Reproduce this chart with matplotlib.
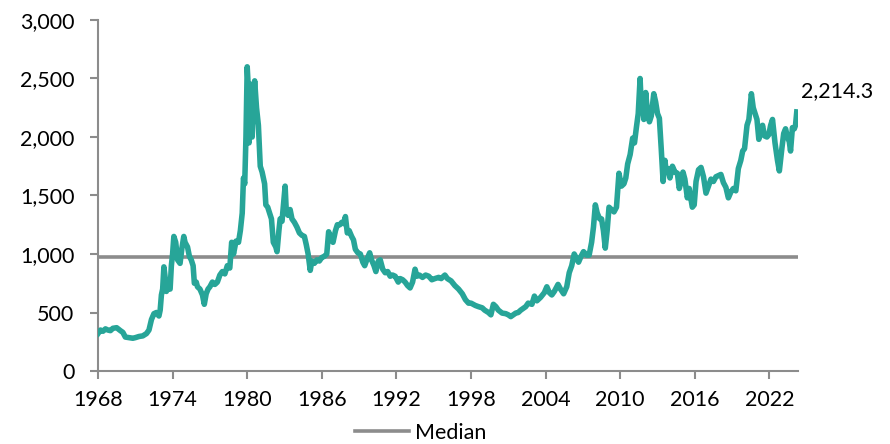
import matplotlib
matplotlib.use("Agg")
import matplotlib.pyplot as plt
from matplotlib.ticker import FuncFormatter, FixedLocator

plt.rcParams['font.family'] = ['Lato', 'DejaVu Sans']

# Series: (decimal year, value)
years = [
    1968.0, 1968.2, 1968.4, 1968.6, 1968.8, 1969.0, 1969.2, 1969.5, 1969.8, 1970.0,
    1970.2, 1970.5, 1970.8, 1971.0, 1971.3, 1971.6, 1971.9, 1972.1, 1972.3, 1972.5,
    1972.7, 1972.9, 1973.0, 1973.1, 1973.2, 1973.3, 1973.4, 1973.5, 1973.6, 1973.8,
    1973.9, 1974.0, 1974.1, 1974.25, 1974.4, 1974.6, 1974.75, 1974.9, 1975.0, 1975.2,
    1975.35, 1975.5, 1975.65, 1975.75, 1975.9, 1976.0, 1976.2, 1976.4, 1976.55, 1976.7,
    1976.85, 1977.0, 1977.2, 1977.4, 1977.6, 1977.8, 1978.0, 1978.2, 1978.4, 1978.6,
    1978.75, 1978.9, 1979.1, 1979.3, 1979.45, 1979.6, 1979.7, 1979.8, 1979.9, 1980.0,
    1980.1, 1980.15, 1980.3, 1980.4, 1980.5, 1980.6, 1980.75, 1980.9, 1981.05, 1981.2,
    1981.4, 1981.5, 1981.65, 1981.8, 1981.95, 1982.1, 1982.3, 1982.4, 1982.55, 1982.65,
    1982.8, 1982.9, 1983.05, 1983.15, 1983.3, 1983.45, 1983.6, 1983.8, 1984.0, 1984.2,
    1984.4, 1984.6, 1984.75, 1984.9, 1985.07, 1985.2, 1985.4, 1985.6, 1985.8, 1986.0,
    1986.2, 1986.4, 1986.55, 1986.7, 1986.9, 1987.1, 1987.25, 1987.45, 1987.6, 1987.75,
    1987.9, 1988.05, 1988.2, 1988.4, 1988.55, 1988.7, 1988.9, 1989.1, 1989.3, 1989.45,
    1989.65, 1989.85, 1990.0, 1990.2, 1990.35, 1990.55, 1990.7, 1990.9, 1991.1, 1991.3,
    1991.5, 1991.7, 1991.9, 1992.15, 1992.3, 1992.5, 1992.7, 1992.9, 1993.1, 1993.3,
    1993.5, 1993.65, 1993.85, 1994.1, 1994.35, 1994.6, 1994.85, 1995.1, 1995.4, 1995.6,
    1995.9, 1996.1, 1996.4, 1996.7, 1997.0, 1997.3, 1997.55, 1997.8, 1998.0, 1998.35,
    1998.6, 1998.9, 1999.1, 1999.4, 1999.6, 1999.8, 2000.0, 2000.2, 2000.5, 2000.8,
    2001.0, 2001.2, 2001.4, 2001.6, 2001.8, 2002.0, 2002.4, 2002.6, 2002.9, 2003.1,
    2003.3, 2003.6, 2003.9, 2004.1, 2004.3, 2004.5, 2004.7, 2005.0, 2005.2, 2005.45,
    2005.7, 2005.9, 2006.1, 2006.3, 2006.5, 2006.65, 2006.85, 2007.05, 2007.3, 2007.5,
    2007.7, 2007.85, 2008.0, 2008.15, 2008.35, 2008.5, 2008.65, 2008.8, 2008.95, 2009.1,
    2009.3, 2009.5, 2009.7, 2009.9, 2010.1, 2010.3, 2010.45, 2010.6, 2010.8, 2011.0,
    2011.15, 2011.3, 2011.45, 2011.6, 2011.7, 2011.8, 2011.9, 2012.05, 2012.2, 2012.35,
    2012.5, 2012.7, 2012.85, 2013.0, 2013.15, 2013.3, 2013.45, 2013.6, 2013.7, 2013.85,
    2014.0, 2014.2, 2014.4, 2014.6, 2014.75, 2014.9, 2015.05, 2015.2, 2015.4, 2015.55,
    2015.8, 2015.95, 2016.1, 2016.3, 2016.5, 2016.7, 2016.9, 2017.1, 2017.3, 2017.5,
    2017.7, 2017.9, 2018.1, 2018.3, 2018.5, 2018.7, 2018.9, 2019.1, 2019.3, 2019.5,
    2019.7, 2019.85, 2020.0, 2020.2, 2020.35, 2020.55, 2020.7, 2020.85, 2021.0, 2021.15,
    2021.3, 2021.45, 2021.6, 2021.8, 2021.95, 2022.1, 2022.25, 2022.45, 2022.65, 2022.8,
    2023.0, 2023.15, 2023.3, 2023.45, 2023.6, 2023.7, 2023.85, 2024.0, 2024.1, 2024.2,
]
values = [
    320, 350, 340, 360, 350, 345, 365, 370, 345, 330,
    290, 285, 280, 285, 295, 300, 320, 350, 440, 490,
    500, 470, 520, 650, 700, 890, 800, 680, 720, 700,
    900, 1000, 1150, 1100, 950, 920, 1050, 1150, 1100, 1060,
    980, 950, 900, 750, 760, 720, 700, 650, 570, 660,
    700, 720, 760, 740, 760, 820, 850, 830, 900, 880,
    1100, 1000, 1110, 1100, 1200, 1350, 1650, 1600, 2000, 2600,
    2400, 1950, 2450, 2000, 2300, 2480, 2250, 2100, 1750, 1700,
    1600, 1420, 1400, 1350, 1300, 1100, 1060, 1020, 1200, 1300,
    1280, 1400, 1580, 1350, 1330, 1380, 1300, 1270, 1230, 1180,
    1160, 1150, 1080, 1000, 860, 940, 920, 950, 940, 970,
    980, 1000, 1190, 1150, 1100, 1200, 1250, 1250, 1270, 1260,
    1320, 1180, 1200, 1150, 1120, 1040, 1010, 1000, 930, 900,
    960, 1010, 950, 900, 850, 940, 950, 870, 840, 850,
    810, 820, 810, 760, 790, 780, 760, 730, 710, 760,
    870, 810, 820, 800, 820, 810, 780, 790, 800, 790,
    820, 790, 770, 730, 700, 660, 610, 580, 580, 560,
    550, 540, 520, 500, 480, 570, 550, 520, 495, 490,
    480, 465, 480, 495, 500, 520, 550, 580, 570, 640,
    600, 630, 670, 720, 670, 650, 680, 740, 700, 660,
    720, 840, 900, 1000, 960, 930, 980, 1020, 990, 990,
    1100, 1230, 1420, 1350, 1300, 1300, 1200, 1050, 1200, 1400,
    1380, 1360, 1400, 1690, 1580, 1600, 1650, 1770, 1850, 1990,
    1950, 2080, 2200, 2500, 2250, 2350, 2150, 2380, 2200, 2130,
    2180, 2370, 2300, 2200, 2160, 1900, 1620, 1800, 1700, 1730,
    1650, 1750, 1700, 1690, 1560, 1620, 1700, 1640, 1480, 1560,
    1400, 1420, 1620, 1720, 1740, 1660, 1520, 1580, 1640, 1620,
    1660, 1670, 1680, 1610, 1570, 1480, 1530, 1560, 1540, 1730,
    1800, 1880, 1900, 2100, 2150, 2370, 2250, 2200, 2150, 1980,
    2050, 2100, 2010, 2000, 2020, 2100, 2150, 1950, 1800, 1710,
    1900, 2030, 2070, 2000, 1960, 1880, 2080, 2070, 2100, 2214.3,
]
median_value = 977
median_label = "Median"
last_label = "2,214.3"
x_ticks = [1968, 1974, 1980, 1986, 1992, 1998, 2004, 2010, 2016, 2022]
y_ticks = [0, 500, 1000, 1500, 2000, 2500, 3000]

teal = "#27A598"
grey = "#8C8C8C"
axis_grey = "#8C8C8C"
fs = 15.5

fig = plt.figure(figsize=(8.9, 4.44), dpi=100)
ax = fig.add_axes([98/890, 1-371/444, 700/890, 351/444])

ax.plot(years, values, color=teal, lw=4.0, solid_joinstyle='round', zorder=3)
ax.plot([years[0], years[-1]], [median_value, median_value], color=grey, lw=2.6,
        label=median_label, zorder=2)

ax.set_xlim(1968, 2024.3)
ax.set_ylim(0, 3000)
ax.xaxis.set_major_locator(FixedLocator(x_ticks))
ax.yaxis.set_major_locator(FixedLocator(y_ticks))
ax.yaxis.set_major_formatter(FuncFormatter(lambda v, p: f"{int(v):,}"))
ax.xaxis.set_major_formatter(FuncFormatter(lambda v, p: f"{int(v)}"))

for s in ['top', 'right']:
    ax.spines[s].set_visible(False)
for s in ['left', 'bottom']:
    ax.spines[s].set_color(axis_grey)
    ax.spines[s].set_linewidth(1.5)

ax.tick_params(axis='both', direction='out', length=6, width=1.5, color=axis_grey,
               labelsize=fs, labelcolor='black')
ax.tick_params(axis='y', pad=11)
ax.tick_params(axis='x', pad=8)

ax.annotate(last_label, xy=(years[-1], values[-1]), xytext=(4, 21),
            textcoords='offset pixels', ha='left', va='center', fontsize=fs,
            color='black')

fig.legend(loc='center', bbox_to_anchor=(421/890, 1-433/444), frameon=False,
           fontsize=fs, handlelength=2.5, handletextpad=0.3)

fig.savefig("out.png", dpi=100)
